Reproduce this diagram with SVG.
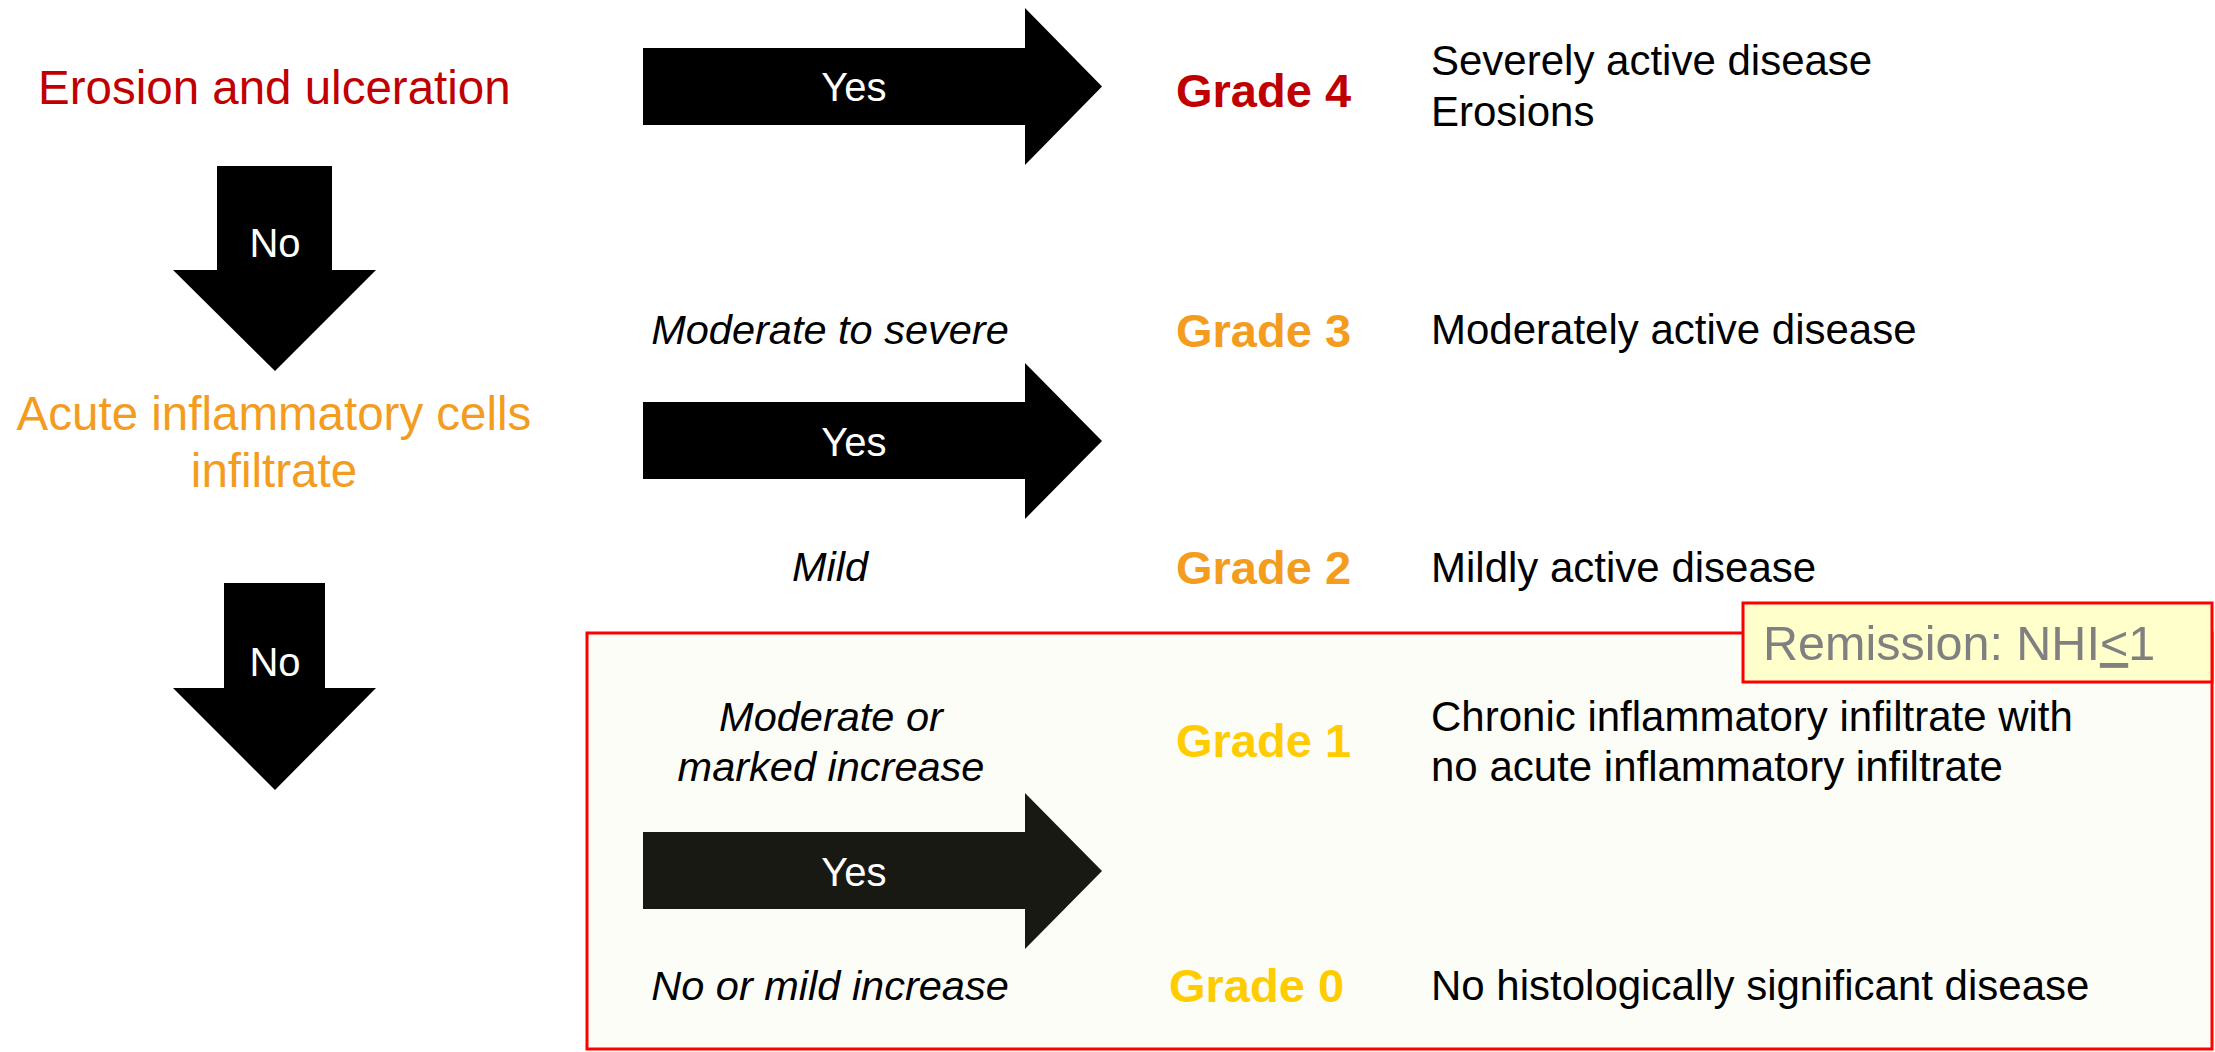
<svg xmlns="http://www.w3.org/2000/svg" width="2215" height="1052" viewBox="0 0 2215 1052">
<style>
text{font-family:"Liberation Sans",Arial,sans-serif}
.lbl{font-size:47.5px}
.w{fill:#fff;font-size:40px;text-anchor:middle}
.it{font-size:41.5px;font-style:italic;fill:#000;text-anchor:middle}
.gr{font-size:47px;font-weight:bold}
.d{font-size:42px;fill:#000}
.arr{fill:#000}
</style>
<rect width="2215" height="1052" fill="#fff"/>
<g id="remission-region">
<rect x="587" y="633" width="1625" height="416" fill="#fdfdf8" stroke="#ff0000" stroke-width="3"/>
</g>
<g id="connectors">
<g id="yes1"><path class="arr" d="M643,48 H1025 V8 L1102,86.5 L1025,165 V125 H643 Z"/><text class="w" x="854" y="101">Yes</text></g>
<g id="no1"><path class="arr" d="M217,166 H332 V270 H376 L275,371 L173,270 H217 Z"/><text class="w" x="275" y="257">No</text></g>
<g id="yes2"><path class="arr" d="M643,402 H1025 V363 L1102,441 L1025,519 V479 H643 Z"/><text class="w" x="854" y="456">Yes</text></g>
<g id="no2"><path class="arr" d="M224,583 H325 V688 H376 L275,790 L173,688 H224 Z"/><text class="w" x="275" y="676">No</text></g>
<g id="yes3"><path fill="#191914" d="M643,832 H1025 V793 L1102,871 L1025,949 V909 H643 Z"/><text class="w" x="854" y="886">Yes</text></g>
</g>
<g id="erosion"><text class="lbl" x="38" y="104" fill="#c00000">Erosion and ulceration</text></g>
<g id="acute"><text class="lbl" x="274" y="430" fill="#f39c1e" text-anchor="middle">Acute inflammatory cells</text><text class="lbl" x="274" y="487" fill="#f39c1e" text-anchor="middle">infiltrate</text></g>
<g id="crit3"><text class="it" x="830" y="344">Moderate to severe</text></g>
<g id="crit2"><text class="it" x="830" y="581">Mild</text></g>
<g id="crit1"><text class="it" x="831" y="731">Moderate or</text><text class="it" x="831" y="781">marked increase</text></g>
<g id="crit0"><text class="it" x="830" y="1000">No or mild increase</text></g>
<g id="grade4"><text class="gr" x="1176" y="107" fill="#c00000">Grade 4</text><text class="d" x="1431" y="75">Severely active disease</text><text class="d" x="1431" y="126">Erosions</text></g>
<g id="grade3"><text class="gr" x="1176" y="347" fill="#f39c1e">Grade 3</text><text class="d" x="1431" y="344">Moderately active disease</text></g>
<g id="grade2"><text class="gr" x="1176" y="584" fill="#f39c1e">Grade 2</text><text class="d" x="1431" y="582">Mildly active disease</text></g>
<g id="grade1"><text class="gr" x="1176" y="757" fill="#ffcc00">Grade 1</text><text class="d" x="1431" y="731">Chronic inflammatory infiltrate with</text><text class="d" x="1431" y="781">no acute inflammatory infiltrate</text></g>
<g id="grade0"><text class="gr" x="1169" y="1002" fill="#ffcc00">Grade 0</text><text class="d" x="1431" y="1000">No histologically significant disease</text></g>
<g id="remission"><rect x="1743" y="603" width="469" height="79" fill="#ffffcc" stroke="#ff0000" stroke-width="3"/><text x="1763" y="660" font-size="48.5" fill="#808080">Remission: NHI<tspan text-decoration="underline">&lt;</tspan>1</text></g>
</svg>
